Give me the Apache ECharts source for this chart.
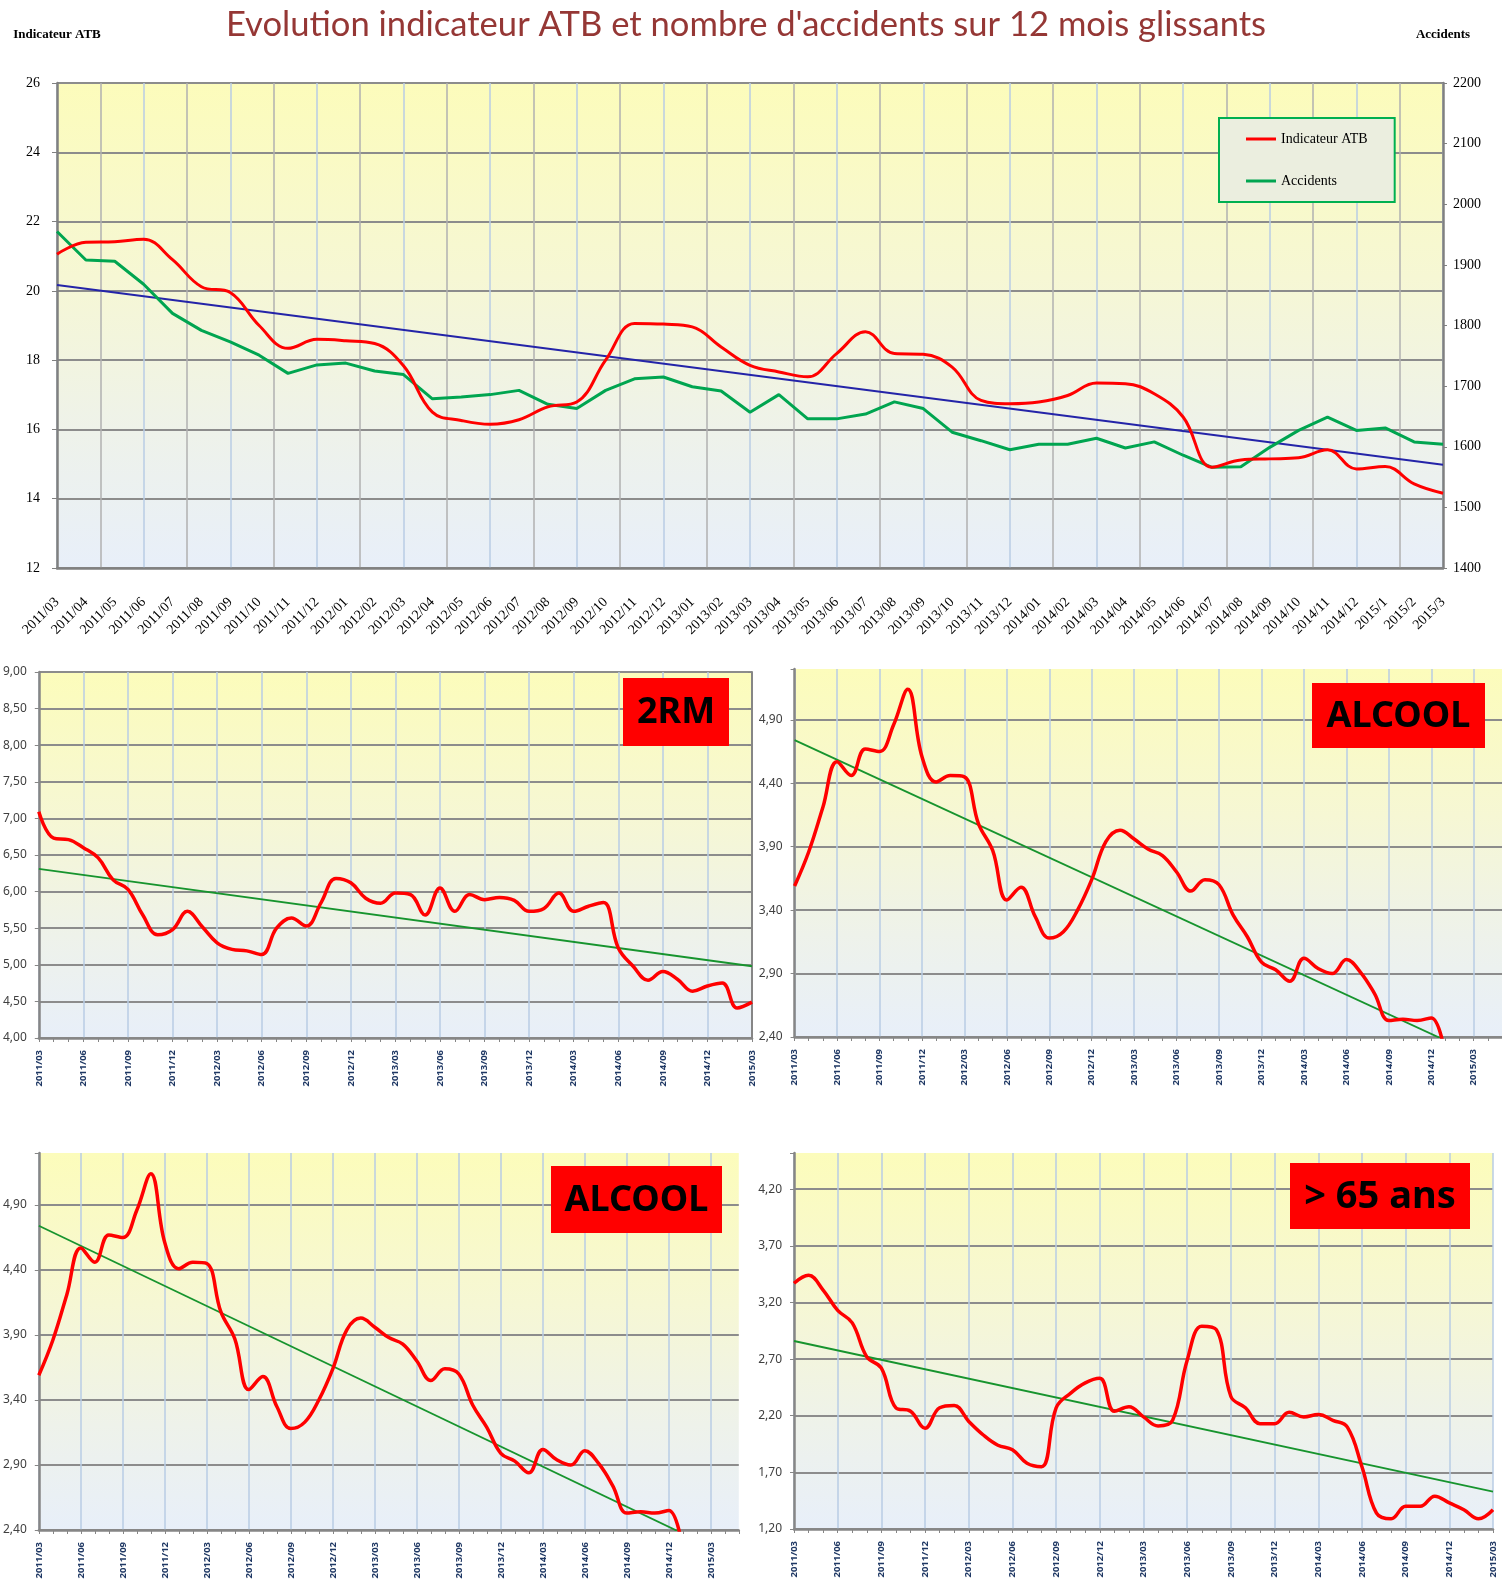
<!DOCTYPE html>
<html>
<head>
<meta charset="utf-8">
<title>Evolution indicateur ATB</title>
<script src="https://cdn.jsdelivr.net/npm/echarts@6/dist/echarts.min.js"></script>
<style>
  html, body { margin: 0; padding: 0; background: #fff; }
  #chart { width: 1502px; height: 1585px; }
</style>
</head>
<body>
<div id="chart"></div>
<script>
// top chart : 12 mois glissants
const topMonths = [
  '2011/03', '2011/04', '2011/05', '2011/06', '2011/07', '2011/08', '2011/09', '2011/10', '2011/11', '2011/12',
  '2012/01', '2012/02', '2012/03', '2012/04', '2012/05', '2012/06', '2012/07', '2012/08', '2012/09', '2012/10', '2012/11', '2012/12',
  '2013/01', '2013/02', '2013/03', '2013/04', '2013/05', '2013/06', '2013/07', '2013/08', '2013/09', '2013/10', '2013/11', '2013/12',
  '2014/01', '2014/02', '2014/03', '2014/04', '2014/05', '2014/06', '2014/07', '2014/08', '2014/09', '2014/10', '2014/11', '2014/12',
  '2015/1', '2015/2', '2015/3'
]
const atbValues = [
  21.06, 21.40, 21.42, 21.49, 20.90, 20.12, 19.95, 19.00, 18.34, 18.60, 18.56, 18.48, 17.84, 16.50, 16.26, 16.15,
  16.28, 16.65, 16.79, 18.00, 19.06, 19.04, 18.96, 18.38, 17.85, 17.66, 17.52, 18.19, 18.82, 18.19, 18.17, 17.80,
  16.84, 16.74, 16.79, 16.98, 17.34, 17.32, 17.03, 16.36, 14.91, 15.12, 15.15, 15.18, 15.41, 14.86, 14.93, 14.43, 14.16
]
const accidentValues = [
  1955, 1908, 1906, 1868, 1820, 1792, 1773, 1751, 1721, 1735, 1738, 1725, 1719, 1679, 1682, 1686,
  1693, 1670, 1663, 1693, 1712, 1715, 1699, 1692, 1657, 1686, 1646, 1646, 1654, 1674, 1663, 1624,
  1610, 1595, 1604, 1604, 1614, 1598, 1608, 1586, 1566, 1567, 1599, 1627, 1649, 1627, 1631, 1608, 1604
]
const atbTrend = [20.17, 14.98]

// small charts
const smallMonths = [
  '2011/03', '2011/04', '2011/05', '2011/06', '2011/07', '2011/08', '2011/09', '2011/10', '2011/11', '2011/12',
  '2012/01', '2012/02', '2012/03', '2012/04', '2012/05', '2012/06', '2012/07', '2012/08', '2012/09', '2012/10', '2012/11', '2012/12',
  '2013/01', '2013/02', '2013/03', '2013/04', '2013/05', '2013/06', '2013/07', '2013/08', '2013/09', '2013/10', '2013/11', '2013/12',
  '2014/01', '2014/02', '2014/03', '2014/04', '2014/05', '2014/06', '2014/07', '2014/08', '2014/09', '2014/10', '2014/11', '2014/12',
  '2015/01', '2015/02', '2015/03', '2015/04', '2015/05'
]
const rmValues = [
  7.09, 6.73, 6.71, 6.60, 6.46, 6.16, 6.03, 5.68, 5.41, 5.48, 5.73, 5.52, 5.30, 5.21, 5.19, 5.14,
  5.50, 5.64, 5.53, 5.85, 6.18, 6.12, 5.91, 5.84, 5.98, 5.96, 5.68, 6.05, 5.73, 5.96, 5.89, 5.92,
  5.88, 5.73, 5.77, 5.98, 5.73, 5.80, 5.85, 5.23, 4.98, 4.79, 4.91, 4.80, 4.64, 4.71, 4.75, 4.41, 4.49
]
const rmTrend = [6.31, 4.98]
const alcoolValues = [
  3.59, 3.86, 4.21, 4.57, 4.46, 4.67, 4.65, 4.86, 5.14, 4.61, 4.41, 4.46, 4.45, 4.08, 3.87, 3.48,
  3.58, 3.35, 3.18, 3.23, 3.40, 3.64, 3.94, 4.03, 3.96, 3.88, 3.83, 3.70, 3.55, 3.64, 3.60, 3.36,
  3.19, 2.99, 2.93, 2.84, 3.02, 2.94, 2.90, 3.01, 2.91, 2.74, 2.53, 2.54, 2.53, 2.55, 2.25
]
const alcoolTrend = [4.74, 2.27]
const seniorValues = [
  3.37, 3.44, 3.31, 3.13, 3.02, 2.72, 2.62, 2.27, 2.24, 2.09, 2.27, 2.29, 2.15, 2.03, 1.94, 1.90,
  1.78, 1.75, 2.27, 2.40, 2.49, 2.53, 2.24, 2.28, 2.19, 2.11, 2.16, 2.69, 2.99, 2.96, 2.37, 2.27,
  2.13, 2.13, 2.23, 2.19, 2.21, 2.16, 2.10, 1.75, 1.34, 1.29, 1.40, 1.40, 1.49, 1.43, 1.37, 1.29, 1.37
]
const seniorTrend = [2.86, 1.53]

const chart = echarts.init(document.getElementById('chart'), null, { renderer: 'canvas' })

function plotBg() {
  return {
    type: 'linear', x: 0, y: 0, x2: 0, y2: 1,
    colorStops: [
      { offset: 0, color: '#fcfcbb' },
      { offset: 0.4, color: '#f6f7d4' },
      { offset: 0.72, color: '#eef2ea' },
      { offset: 1, color: '#e8eff9' }
    ]
  }
}

// trend line : only the two ends are given, the line is joined by connectNulls
function trendData(len, lastIdx, ends) {
  const arr = new Array(len).fill(null)
  arr[0] = ends[0]
  arr[lastIdx] = ends[1]
  return arr
}

function comma(v) {
  return v.toFixed(2).replace('.', ',')
}

function smallX(gridIndex, cats) {
  return {
    type: 'category',
    gridIndex: gridIndex,
    data: cats,
    boundaryGap: false,
    axisLine: { lineStyle: { color: '#868686', width: 2.5 } },
    axisTick: { show: true, interval: 0, length: 4, lineStyle: { color: '#868686' } },
    axisLabel: {
      interval: 2,
      rotate: 90,
      margin: 12,
      fontFamily: 'Noto Sans',
      fontWeight: 'bold',
      fontSize: 9.5,
      color: '#1f3864'
    },
    splitLine: { show: true, interval: 2, lineStyle: { color: '#b9cde5', width: 1.5 } }
  }
}

function smallY(gridIndex, min, max, labelMax, showMax) {
  return {
    type: 'value',
    gridIndex: gridIndex,
    min: min,
    max: max,
    interval: 0.5,
    axisLine: { show: true, lineStyle: { color: '#868686', width: 2.5 } },
    axisTick: { show: true, length: 4, lineStyle: { color: '#868686' } },
    axisLabel: {
      margin: 12,
      fontFamily: 'Noto Sans',
      fontSize: 12,
      color: '#404040',
      formatter(v) {
        return v > labelMax + 1e-6 ? '' : comma(v)
      }
    },
    splitLine: { show: true, showMaxLine: showMax, lineStyle: { color: '#8c8c8c', width: 1.8 } }
  }
}

function redLine(xi, yi, data) {
  return {
    type: 'line', xAxisIndex: xi, yAxisIndex: yi, data: data,
    smooth: 0.4, symbol: 'none', silent: true, z: 4,
    lineStyle: { color: '#ff0000', width: 3.5 }
  }
}

function greenTrend(xi, yi, data) {
  return {
    type: 'line', xAxisIndex: xi, yAxisIndex: yi, data: data,
    connectNulls: true, symbol: 'none', silent: true, z: 3,
    lineStyle: { color: '#17942e', width: 1.8 }
  }
}

function tagBox(x, y, w, h, text, size) {
  return {
    type: 'group',
    z: 100,
    children: [
      { type: 'rect', z: 100, shape: { x: x, y: y, width: w, height: h }, style: { fill: '#ff0000' } },
      {
        type: 'text', z: 101, x: x + w / 2, y: y + h / 2 + 1,
        style: {
          text: text, align: 'center', verticalAlign: 'middle',
          fontFamily: 'Noto Sans', fontWeight: 'bold', fontSize: size, fill: '#000'
        }
      }
    ]
  }
}

const serif = 'Liberation Serif'

chart.setOption({
  backgroundColor: '#ffffff',
  animation: false,
  graphic: [
    {
      type: 'text', x: 746, y: 25,
      style: {
        text: "Evolution indicateur ATB et nombre d'accidents sur 12 mois glissants",
        align: 'center', verticalAlign: 'middle',
        fontFamily: 'Lato', fontSize: 34.6, fill: '#953735'
      }
    },
    tagBox(623, 678, 106, 68, '2RM', 36),
    tagBox(1312, 683, 173, 65, 'ALCOOL', 36),
    tagBox(551, 1166, 171, 67, 'ALCOOL', 36),
    tagBox(1290, 1163, 180, 66, '> 65 ans', 38)
  ],
  legend: {
    data: ['Indicateur ATB', 'Accidents'],
    orient: 'vertical',
    left: 1219,
    top: 118,
    padding: [14, 27, 14, 27],
    itemGap: 28,
    itemWidth: 30,
    itemHeight: 3,
    icon: 'rect',
    backgroundColor: '#ebeedf',
    borderColor: '#00b050',
    borderWidth: 2,
    textStyle: { fontFamily: serif, fontSize: 14, color: '#000' }
  },
  grid: [
    { left: 57, top: 83, width: 1386, height: 485, show: true, backgroundColor: plotBg(), borderWidth: 0 },
    { left: 38, top: 672, width: 714, height: 366, show: true, backgroundColor: plotBg(), borderWidth: 0 },
    { left: 794.6, top: 669, width: 707.4, height: 368, show: true, backgroundColor: plotBg(), borderWidth: 0 },
    { left: 37.3, top: 1153, width: 701.5, height: 377, show: true, backgroundColor: plotBg(), borderWidth: 0 },
    { left: 794, top: 1153, width: 699, height: 376, show: true, backgroundColor: plotBg(), borderWidth: 0 }
  ],
  xAxis: [
    {
      type: 'category',
      gridIndex: 0,
      data: topMonths,
      boundaryGap: false,
      axisLine: { lineStyle: { color: '#808080', width: 2.5 } },
      axisTick: { show: false },
      axisLabel: { interval: 0, rotate: 45, margin: 32, fontFamily: serif, fontSize: 14, color: '#000' },
      splitLine: { show: false }
    },
    {
      // vertical grid of the top chart, every 1.5 month, grey and blue in turn
      type: 'value',
      gridIndex: 0,
      min: 0,
      max: 32,
      interval: 1,
      position: 'top',
      axisLine: { show: false },
      axisTick: { show: false },
      axisLabel: { show: false },
      splitLine: { show: true, lineStyle: { color: ['#b8cce4', '#b0b0b0'], width: 1.5 } }
    },
    smallX(1, smallMonths.slice(0, 49)),
    smallX(2, smallMonths),
    smallX(3, smallMonths),
    smallX(4, smallMonths.slice(0, 49))
  ],
  yAxis: [
    {
      type: 'value',
      gridIndex: 0,
      min: 12,
      max: 26,
      interval: 2,
      name: 'Indicateur ATB',
      nameLocation: 'end',
      nameGap: 42,
      nameTextStyle: { fontFamily: serif, fontWeight: 'bold', fontSize: 13, color: '#000' },
      axisLine: { show: true, lineStyle: { color: '#808080', width: 2.5 } },
      axisTick: { show: true, length: 5, lineStyle: { color: '#808080' } },
      axisLabel: { margin: 17, fontFamily: serif, fontSize: 14, color: '#000' },
      splitLine: { show: true, lineStyle: { color: '#8c8c8c', width: 2 } }
    },
    {
      type: 'value',
      gridIndex: 0,
      position: 'right',
      min: 1400,
      max: 2200,
      interval: 100,
      name: 'Accidents',
      nameLocation: 'end',
      nameGap: 42,
      nameTextStyle: { fontFamily: serif, fontWeight: 'bold', fontSize: 13, color: '#000' },
      axisLine: { show: true, lineStyle: { color: '#808080', width: 2.5 } },
      axisTick: { show: true, length: 4, lineStyle: { color: '#808080' } },
      axisLabel: {
        margin: 10, fontFamily: serif, fontSize: 14, color: '#000',
        formatter(v) {
          return String(v)
        }
      },
      splitLine: { show: false }
    },
    smallY(1, 4, 9, 9, true),
    {
      type: 'value',
      gridIndex: 1,
      position: 'right',
      min: 4,
      max: 9,
      interval: 0.5,
      axisLine: { show: true, lineStyle: { color: '#868686', width: 2 } },
      axisTick: { show: true, inside: true, length: 4, lineStyle: { color: '#868686' } },
      axisLabel: { show: false },
      splitLine: { show: false }
    },
    smallY(2, 2.4, 5.3, 4.9, false),
    smallY(3, 2.4, 5.3, 4.9, false),
    smallY(4, 1.2, 4.52, 4.2, false)
  ],
  series: [
    {
      type: 'line', xAxisIndex: 0, yAxisIndex: 0,
      data: trendData(49, 48, atbTrend),
      connectNulls: true, symbol: 'none', silent: true, z: 2,
      lineStyle: { color: '#2424a8', width: 2 }
    },
    {
      name: 'Accidents',
      type: 'line', xAxisIndex: 0, yAxisIndex: 1,
      data: accidentValues,
      symbol: 'none', z: 3,
      color: '#00a550',
      lineStyle: { color: '#00a550', width: 3 }
    },
    {
      name: 'Indicateur ATB',
      type: 'line', xAxisIndex: 0, yAxisIndex: 0,
      data: atbValues,
      smooth: 0.4, symbol: 'none', z: 4,
      color: '#ff0000',
      lineStyle: { color: '#ff0000', width: 3 }
    },
    greenTrend(2, 2, trendData(49, 48, rmTrend)),
    redLine(2, 2, rmValues),
    greenTrend(3, 4, trendData(51, 48, alcoolTrend)),
    redLine(3, 4, alcoolValues),
    greenTrend(4, 5, trendData(51, 48, alcoolTrend)),
    redLine(4, 5, alcoolValues),
    greenTrend(5, 6, trendData(49, 48, seniorTrend)),
    redLine(5, 6, seniorValues)
  ]
})
</script>
</body>
</html>
